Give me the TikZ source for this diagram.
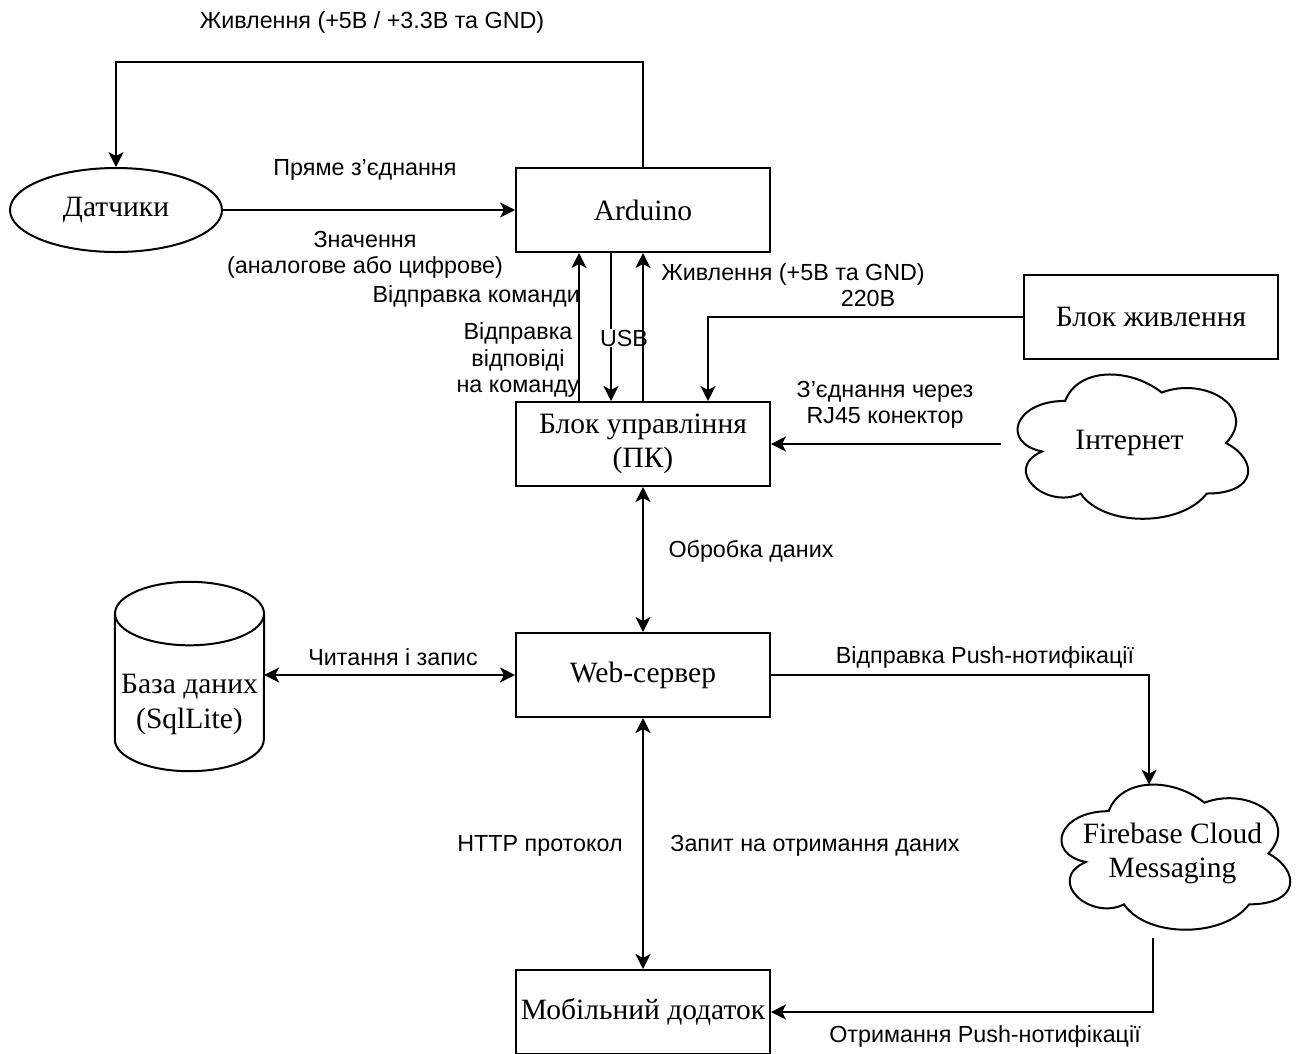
\documentclass[tikz,border=0pt]{standalone}
\usepackage{fontspec}
\setmainfont{Liberation Serif}
\newfontfamily\labfont{Liberation Sans}
\usetikzlibrary{arrows.meta,calc,shapes.geometric}

\newcommand\drawcloud[1]{%
\draw[ln] let \p1=(#1.north west), \p2=(#1.south east), \n1={\x2-\x1}, \n2={\y2-\y1} in
 ({\x1+0.25*\n1},{\y1+0.25*\n2}) .. controls ({\x1+0.05*\n1},{\y1+0.25*\n2}) and ({\x1},{\y1+0.5*\n2}) .. ({\x1+0.16*\n1},{\y1+0.55*\n2})
 .. controls ({\x1},{\y1+0.66*\n2}) and ({\x1+0.18*\n1},{\y1+0.9*\n2}) .. ({\x1+0.31*\n1},{\y1+0.8*\n2})
 .. controls ({\x1+0.4*\n1},{\y1+\n2}) and ({\x1+0.7*\n1},{\y1+\n2}) .. ({\x1+0.8*\n1},{\y1+0.8*\n2})
 .. controls ({\x1+\n1},{\y1+0.8*\n2}) and ({\x1+\n1},{\y1+0.6*\n2}) .. ({\x1+0.875*\n1},{\y1+0.5*\n2})
 .. controls ({\x1+\n1},{\y1+0.3*\n2}) and ({\x1+0.8*\n1},{\y1+0.1*\n2}) .. ({\x1+0.625*\n1},{\y1+0.2*\n2})
 .. controls ({\x1+0.5*\n1},{\y1+0.05*\n2}) and ({\x1+0.3*\n1},{\y1+0.05*\n2}) .. ({\x1+0.25*\n1},{\y1+0.25*\n2}) -- cycle;}

\begin{document}
\begin{tikzpicture}[x=1pt,y=-1pt,
  nodefont/.style={font=\fontsize{29.5}{34.5}\selectfont},
  box/.style={draw, line width=2pt, rectangle, minimum width=254pt, minimum height=84pt, inner sep=0pt, nodefont, align=center},
  ell/.style={draw, line width=2pt, ellipse, minimum width=212pt, minimum height=84pt, inner sep=0pt, nodefont},
  blank/.style={rectangle, inner sep=0pt, nodefont, align=center},
  lab/.style={inner sep=1pt, font=\labfont\fontsize{23.3}{26.5}\selectfont, align=center},
  ln/.style={line width=2pt},
  tip/.tip={Stealth[length=15pt,width=15pt,inset=4pt]},
  arr/.style={ln, -tip},
  darr/.style={ln, tip-tip}
]
\path[fill=white, use as bounding box] (0,0) rectangle (1300,1053);

% nodes
\node[ell] (sens) at (116,210) {Датчики};
\node[box] (ard) at (643,210) {Arduino};
\node[box] (pc) at (643,444) {Блок управління\\(ПК)};
\node[box] (psu) at (1151,317) {Блок живлення};
\node[blank, minimum width=257pt, minimum height=168pt] (inet) at (1129.5,443) {Інтернет};
\node[box] (web) at (643,675) {Web-сервер};
\node[blank, minimum width=149pt, minimum height=189pt,
  label={[name=dbtext, nodefont, align=center, yshift=-28pt]center:База даних\\(SqlLite)}] (db) at (189.5,676.5) {};
\node[blank, minimum width=255pt, minimum height=169pt] (fcm) at (1172.5,853.5) {Firebase Cloud\\Messaging};
\node[box] (mob) at (643,1012) {Мобільний додаток};

% shapes
\drawcloud{inet}
\drawcloud{fcm}
\draw[ln] ([yshift=-31.75pt]db.north) ellipse [x radius=74.5pt, y radius=31.75pt];
\draw[ln] ([yshift=-31.75pt]db.north west) -- ([yshift=31.75pt]db.south west)
  arc[start angle=180, end angle=360, x radius=74.5pt, y radius=31.75pt]
  -- ([yshift=-31.75pt]db.north east);
\coordinate (fcmtop) at ($(fcm.north west)+(104.3,15.9)$);

% connectors
\draw[arr] (ard.north) -- ++(0,-105) -| (sens.north);
\draw[arr] (sens.east) -- (ard.west);
\draw[arr] ([xshift=64pt]pc.north west) -- ([xshift=64pt]ard.south west);
\draw[arr] ([xshift=96pt]ard.south west) -- ([xshift=96pt]pc.north west);
\node[lab, fill=white] (lusb) at (624,338) {USB};
\draw[arr] (pc.north) -- (ard.south);
\draw[arr] (psu.west) -| ([xshift=65pt]pc.north);
\draw[arr] (pc.east -| inet.west) -- (pc.east);
\draw[darr] (pc.south) -- (web.north);
\draw[darr] (db.east |- web.west) -- (web.west);
\draw[arr] (web.east) -| (fcmtop);
\draw[darr] (web.south) -- (mob.north);
\draw[arr] ([xshift=-20pt]fcm.south) |- (mob.east);

% labels
\node[lab] (l1) at (372,22) {Живлення (+5В / +3.3В та GND)};
\node[lab] (l2) at (365,170) {Пряме з’єднання};
\node[lab] (l3) at (365,255) {Значення\\(аналогове або цифрове)};
\node[lab, anchor=east] (l4) at (581,296) {Відправка команди};
\node[lab] (l5) at (518,360) {Відправка\\відповіді\\на команду};
\node[lab] (l6) at (793,274) {Живлення (+5В та GND)};
\node[lab] (l7) at (868,298) {220В};
\node[lab] (l8) at (885,405) {З’єднання через\\RJ45 конектор};
\node[lab] (l9) at (751,551) {Обробка даних};
\node[lab] (l10) at (393,657) {Читання і запис};
\node[lab] (l11) at (985,657) {Відправка Push-нотифікації};
\node[lab] (l12) at (540,846) {HTTP протокол};
\node[lab] (l13) at (815,846) {Запит на отримання даних};
\node[lab] (l14) at (985,1036) {Отримання Push-нотифікації};
\end{tikzpicture}
\end{document}
